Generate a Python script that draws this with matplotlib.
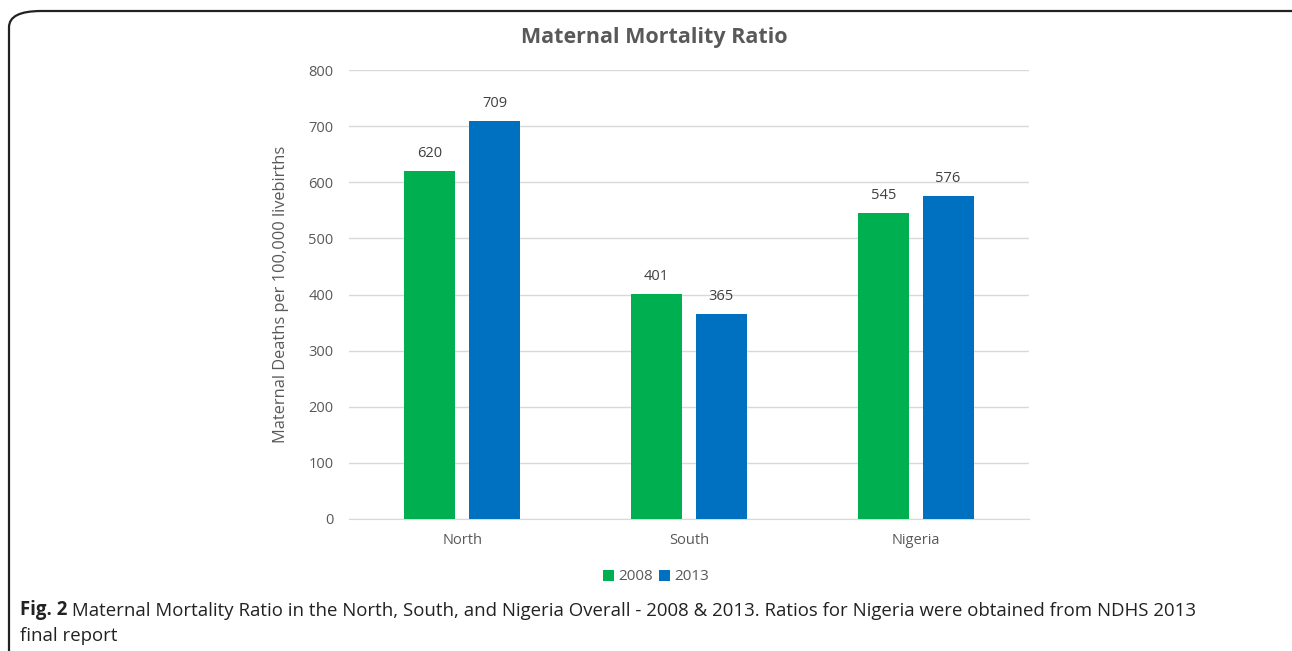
import numpy as np
import matplotlib.pyplot as plt
from matplotlib.patches import FancyBboxPatch

regions = ['North', 'South', 'Nigeria']
years = ['2008', '2013']
mmr_2008 = [620, 401, 545]
mmr_2013 = [709, 365, 576]
colors = ['#00B050', '#0070C0']

plt.rcParams['font.family'] = ['Open Sans', 'DejaVu Sans']
txt = '#595959'

fig = plt.figure(figsize=(12.92, 6.51), dpi=100)

# rounded frame around the whole figure panel
frame = FancyBboxPatch((9 / 1292, -0.2), 1.2, 1.2 - 11 / 651,
                       boxstyle='round,pad=0,rounding_size=0.025',
                       transform=fig.transFigure, fill=False,
                       edgecolor='#222222', linewidth=1.6, clip_on=False)
fig.patches.append(frame)

ax = fig.add_axes([349 / 1292, 132 / 651, 680 / 1292, 449 / 651])

x = np.arange(len(regions))
w = 0.225
off = 0.143
for i, (vals, yr) in enumerate(zip([mmr_2008, mmr_2013], years)):
    pos = x + (off if i else -off)
    bars = ax.bar(pos, vals, w, color=colors[i], label=yr, zorder=3)
    for b, v in zip(bars, vals):
        ax.text(b.get_x() + b.get_width() / 2, v + 18, str(v),
                ha='center', va='bottom', fontsize=10.5, color='#404040')

ax.set_xlim(-0.5, 2.5)
ax.set_ylim(0, 800)
ax.set_yticks(range(0, 801, 100))
ax.set_xticks(x)
ax.set_xticklabels(regions)
ax.grid(axis='y', color='#d9d9d9', linewidth=1, zorder=0)
for s in ['top', 'right', 'left']:
    ax.spines[s].set_visible(False)
ax.spines['bottom'].set_color('#d9d9d9')
ax.tick_params(axis='both', length=0, labelsize=10.5, colors=txt)
ax.tick_params(axis='x', pad=10)
ax.tick_params(axis='y', pad=11)
ax.set_ylabel('Maternal Deaths per 100,000 livebirths', fontsize=11.8,
              color=txt, labelpad=14)

fig.text(654 / 1292, 1 - 37 / 651, 'Maternal Mortality Ratio', ha='center',
         va='center', fontsize=15.5, fontweight='bold', color=txt)

ax.legend(loc='center', bbox_to_anchor=(656 / 1292, 1 - 577 / 651),
          bbox_transform=fig.transFigure, ncol=2, frameon=False,
          fontsize=11, handlelength=0.7, handleheight=0.7,
          columnspacing=0.4, handletextpad=0.3, labelcolor=txt)

cap = '#222222'
t1 = fig.text(20 / 1292, 1 - 615 / 651, 'Fig. 2', ha='left', va='baseline',
              fontsize=13.4, fontweight='bold', color=cap)
fig.canvas.draw()
ax.annotate(' Maternal Mortality Ratio in the North, South, and Nigeria Overall - 2008 & 2013. '
            'Ratios for Nigeria were obtained from NDHS 2013',
            xy=(1, 0), xycoords=t1, ha='left', va='bottom',
            fontsize=13.4, color=cap, annotation_clip=False)
fig.text(20 / 1292, 1 - 641 / 651, 'final report', ha='left', va='baseline',
         fontsize=13.4, color=cap)

fig.savefig('out.png', dpi=100)
